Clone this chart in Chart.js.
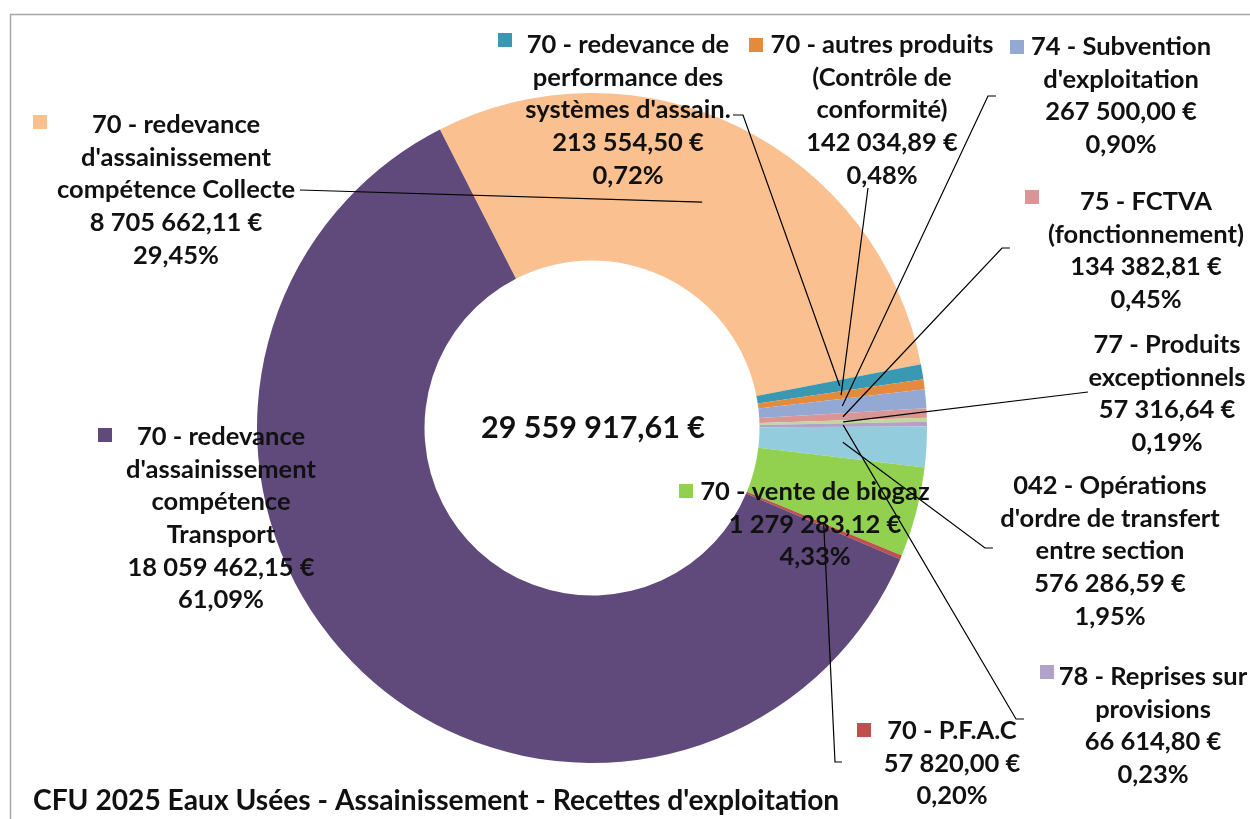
<!DOCTYPE html>
<html>
<head>
<meta charset="utf-8">
<script src="https://cdn.jsdelivr.net/npm/chart.js@4.4.1/dist/chart.umd.min.js"></script>
<style>
  html, body { margin: 0; padding: 0; background: #fff; }
</style>
</head>
<body>
<canvas id="recettesChart" width="1250" height="819"></canvas>
<script>
// donnees
const categories = [
  "70 - redevance d'assainissement compétence Collecte",
  "70 - redevance de performance des systèmes d'assain.",
  "70 - autres produits (Contrôle de conformité)",
  "74 - Subvention d'exploitation",
  "75 - FCTVA (fonctionnement)",
  "77 - Produits exceptionnels",
  "78 - Reprises sur provisions",
  "042 - Opérations d'ordre de transfert entre section",
  "70 - vente de biogaz",
  "70 - P.F.A.C",
  "70 - redevance d'assainissement compétence Transport"
];
const montants = [8705662.11, 213554.50, 142034.89, 267500.00, 134382.81, 57316.64, 66614.80, 576286.59, 1279283.12, 57820.00, 18059462.15];
const couleurs = ['#FAC090', '#3A99B2', '#E38A3D', '#93A9D4', '#D99694', '#C3D69B', '#B3A2C7', '#93CDDD', '#92D050', '#C0504D', '#604A7B'];
// decoupage des libelles comme sur l'image
const lignesLibelles = [
  ["70 - redevance", "d'assainissement", "compétence Collecte"],
  ["70 - redevance de", "performance des", "systèmes d'assain."],
  ["70 - autres produits", "(Contrôle de", "conformité)"],
  ["74 - Subvention", "d'exploitation"],
  ["75 - FCTVA", "(fonctionnement)"],
  ["77 - Produits", "exceptionnels"],
  ["78 - Reprises sur", "provisions"],
  ["042 - Opérations", "d'ordre de transfert", "entre section"],
  ["70 - vente de biogaz"],
  ["70 - P.F.A.C"],
  ["70 - redevance", "d'assainissement", "compétence", "Transport"]
];
const titre = "CFU 2025 Eaux Usées - Assainissement - Recettes d'exploitation";

// placement des etiquettes (centre x, 1re ligne y, carre de legende, depart du trait)
const etiquettes = [
  { x: 176, y: 125, carre: [33, 115], trait: [[300, 190]] },
  { x: 628, y: 45, carre: [498, 33], trait: [[733, 115], [743, 115]] },
  { x: 882, y: 45, carre: [749, 38], trait: [[868, 188]] },
  { x: 1121, y: 47, carre: [1010, 40], trait: [[996, 96], [988, 96]] },
  { x: 1146, y: 202, carre: [1025, 190], trait: [[1010, 248], [1002, 248]] },
  { x: 1167, y: 345, carre: null, trait: [[1088, 392]] },
  { x: 1153, y: 677, carre: [1040, 665], trait: [[1024, 719], [1016, 719]] },
  { x: 1110, y: 486, carre: null, trait: [[993, 548], [985, 548]] },
  { x: 815, y: 492, carre: [679, 484], trait: null },
  { x: 952, y: 731, carre: [857, 723], trait: [[842, 762], [835, 762]] },
  { x: 221, y: 437, carre: [98, 428], trait: null }
];

const police = 'Lato, "Open Sans", sans-serif';
const total = montants.reduce((a, b) => a + b, 0);

function euros(v) {
  let parts = v.toFixed(2).split('.');
  let ent = parts[0].replace(/\B(?=(\d{3})+(?!\d))/g, ' ');
  return ent + ',' + parts[1] + ' €';
}
function pourcent(v) {
  return (v / total * 100).toFixed(2).replace('.', ',') + '%';
}
// taille de police pour qu'un texte fasse la largeur voulue
function ajuster(ctx, texte, largeur) {
  ctx.font = 'bold 100px ' + police;
  return 100 * largeur / ctx.measureText(texte).width;
}

const etiquettesPlugin = {
  id: 'etiquettes',
  afterDraw(chart) {
    const ctx = chart.ctx;
    const meta = chart.getDatasetMeta(0);
    ctx.save();

    // cadre
    ctx.strokeStyle = '#a6a6a6';
    ctx.lineWidth = 1.5;
    ctx.strokeRect(10.5, 14.5, 1400, 1000);

    // traits de rappel
    ctx.strokeStyle = '#000';
    ctx.lineWidth = 1.2;
    etiquettes.forEach((e, i) => {
      if (!e.trait) return;
      const p = meta.data[i].getCenterPoint();
      ctx.beginPath();
      ctx.moveTo(e.trait[0][0], e.trait[0][1]);
      for (let k = 1; k < e.trait.length; k++) ctx.lineTo(e.trait[k][0], e.trait[k][1]);
      ctx.lineTo(p.x, p.y);
      ctx.stroke();
    });

    // libelles
    const taille = ajuster(ctx, 'compétence Collecte', 238);
    ctx.font = 'bold ' + taille.toFixed(1) + 'px ' + police;
    ctx.textAlign = 'center';
    ctx.textBaseline = 'middle';
    etiquettes.forEach((e, i) => {
      const lignes = lignesLibelles[i].concat([euros(montants[i]), pourcent(montants[i])]);
      ctx.fillStyle = '#111';
      lignes.forEach((l, k) => ctx.fillText(l, e.x, e.y + k * 32.6));
      if (e.carre) {
        ctx.fillStyle = couleurs[i];
        ctx.fillRect(e.carre[0], e.carre[1], 14, 14);
      }
    });

    // total au centre
    const c = meta.data[0];
    const tTotal = euros(total);
    ctx.fillStyle = '#111';
    ctx.font = 'bold ' + ajuster(ctx, tTotal, 224).toFixed(1) + 'px ' + police;
    ctx.fillText(tTotal, c.x + 1, c.y);

    // titre
    ctx.font = 'bold ' + ajuster(ctx, titre, 807).toFixed(1) + 'px ' + police;
    ctx.textAlign = 'left';
    ctx.fillText(titre, 33, 801);
    ctx.restore();
  }
};

const context = document.getElementById('recettesChart').getContext('2d');

const data =
{
  labels: categories,
  datasets:
  [{
    label: 'Recettes',
    data: montants,
    backgroundColor: couleurs,
    borderWidth: 0
  }]
};

const config =
{
  type: 'doughnut',
  data: data,
  options:
  {
    responsive: false,
    animation: false,
    events: [],
    cutout: '50%',
    rotation: -27,
    layout: { padding: { top: 93, bottom: 56, left: 257, right: 323 } },
    plugins:
    {
      legend: { display: false },
      tooltip: { enabled: false }
    }
  },
  plugins: [etiquettesPlugin]
};

const recettesChart = new Chart(context, config);
</script>
</body>
</html>
